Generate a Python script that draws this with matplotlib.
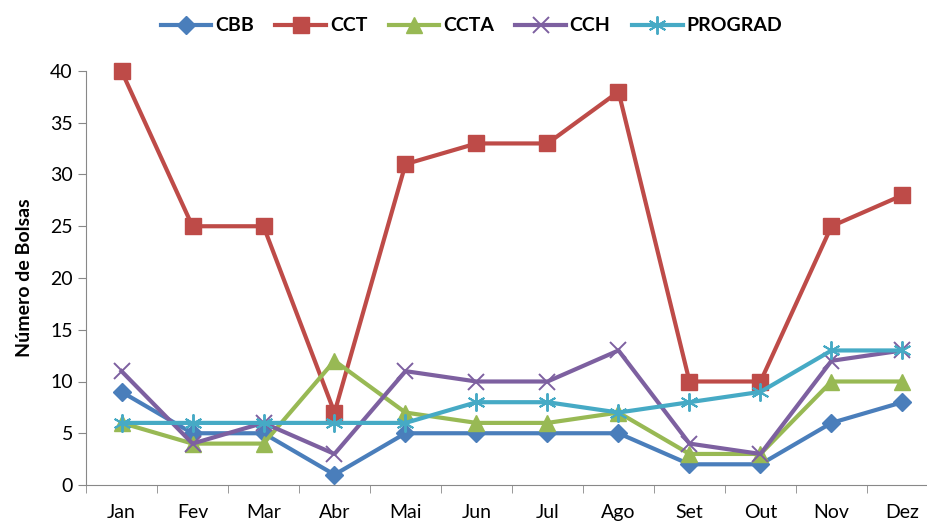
import numpy as np
import matplotlib.pyplot as plt

# Dados
meses = ['Jan', 'Fev', 'Mar', 'Abr', 'Mai', 'Jun', 'Jul', 'Ago', 'Set', 'Out', 'Nov', 'Dez']
cbb = [9, 5, 5, 1, 5, 5, 5, 5, 2, 2, 6, 8]
cct = [40, 25, 25, 7, 31, 33, 33, 38, 10, 10, 25, 28]
ccta = [6, 4, 4, 12, 7, 6, 6, 7, 3, 3, 10, 10]
cch = [11, 4, 6, 3, 11, 10, 10, 13, 4, 3, 12, 13]
prograd = [6, 6, 6, 6, 6, 8, 8, 7, 8, 9, 13, 13]

plt.rcParams['font.family'] = ['Lato', 'DejaVu Sans']

fig = plt.figure(figsize=(9.28, 5.22), dpi=100)
ax = fig.add_axes([86 / 928, 37 / 522, 852 / 928, 414 / 522])

x = np.arange(len(meses))
lw = 3.0
ax.plot(x, cbb, color='#4A7EBB', lw=lw, marker='D', ms=9, label='CBB', clip_on=False)
ax.plot(x, cct, color='#BE4B48', lw=lw, marker='s', ms=11, label='CCT', clip_on=False)
ax.plot(x, ccta, color='#98B954', lw=lw, marker='^', ms=11, label='CCTA', clip_on=False)
ax.plot(x, cch, color='#7D60A0', lw=lw, marker='x', ms=11, mew=1.4, label='CCH', clip_on=False)
ax.plot(x, prograd, color='#46AAC5', lw=lw, marker=(6, 2, 0), ms=13, mew=1.4,
        label='PROGRAD', clip_on=False)

ax.set_xlim(-0.5, 11.5)
ax.set_ylim(0, 40)
ax.set_yticks(range(0, 41, 5))
ax.set_xticks(x)
ax.set_xticklabels(meses)
ax.set_xticks(np.arange(-0.5, 12, 1), minor=True)
ax.tick_params(axis='x', which='major', length=0, pad=14, labelsize=14)
ax.tick_params(axis='x', which='minor', length=6, color='#888888')
ax.tick_params(axis='y', length=6, color='#888888', labelsize=14)

for lado in ['top', 'right']:
    ax.spines[lado].set_visible(False)
for lado in ['left', 'bottom']:
    ax.spines[lado].set_color('#888888')

ax.set_ylabel('Número de Bolsas', fontsize=14, fontweight='bold', labelpad=12)

fig.legend(loc='upper center', bbox_to_anchor=(0.508, 1.0), ncol=5, frameon=False,
           prop={'weight': 'bold', 'size': 14}, handlelength=2.6, columnspacing=1.1,
           handletextpad=0.2)

plt.savefig('out.png', dpi=100)
